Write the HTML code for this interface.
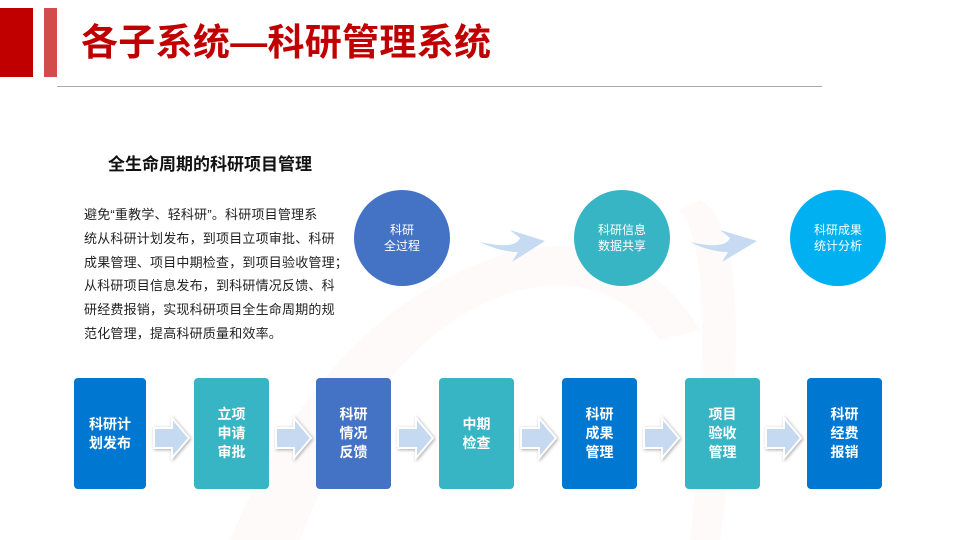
<!DOCTYPE html>
<html><head><meta charset="utf-8"><style>
body{margin:0;width:960px;height:540px;position:relative;background:#fff;font-family:"Liberation Sans","Noto Sans CJK SC",sans-serif;overflow:hidden}
.a{position:absolute}
.box{position:absolute;top:378px;width:75px;height:111px;border-radius:4px;color:#fff;font-weight:bold;font-size:14px;line-height:19px;display:flex;align-items:center;justify-content:center;text-align:center}
.c{position:absolute;width:96px;height:96px;border-radius:50%;color:#fff;font-size:12px;line-height:16px;display:flex;align-items:center;justify-content:center;text-align:center;top:190px}
</style></head><body>
<div class="a" style="left:0;top:8px;width:33px;height:69px;background:#c00000"></div>
<div class="a" style="left:44px;top:8px;width:13px;height:69px;background:#d24c4c"></div>
<div class="a" style="left:81px;top:18px;font-size:37px;font-weight:bold;color:#c00000;line-height:50px;letter-spacing:0.3px">各子系统—科研管理系统</div>
<div class="a" style="left:57px;top:86px;width:765px;height:1px;background:#aaa"></div>
<svg class="a" style="left:0;top:0" width="960" height="540">
<path d="M230 540 Q330 300 520 250 Q640 230 700 330 L660 340 Q610 270 520 290 Q380 330 300 540Z" fill="#fefafa"/>
<path d="M700 200 Q760 230 720 540 L690 540 Q720 260 680 210Z" fill="#fefafa"/>
<path d="M480 242 Q515 250 520 238 L510 230 L545 241 L512 262 L518 252 Q500 252 480 242Z" fill="#c6daf1"/>
<path d="M690 242 Q725 250 730 238 L720 230 L757 241 L722 262 L728 252 Q710 252 690 242Z" fill="#c6daf1"/>
<g fill="#c5d9f1" stroke="#fff" stroke-width="2" style="filter:drop-shadow(1px 1px 1.5px #aaa)">
<path d="M154 428h18v-10l17 20-17 20v-10h-18z"/>
<path d="M276 428h18v-10l17 20-17 20v-10h-18z"/>
<path d="M398 428h18v-10l17 20-17 20v-10h-18z"/>
<path d="M521 428h18v-10l17 20-17 20v-10h-18z"/>
<path d="M644 428h18v-10l17 20-17 20v-10h-18z"/>
<path d="M766 428h18v-10l17 20-17 20v-10h-18z"/>
</g></svg>
<div class="a" style="left:108px;top:150px;font-size:17px;font-weight:bold;color:#111">全生命周期的科研项目管理</div>
<div class="a" style="left:84px;top:203px;width:300px;font-size:13px;letter-spacing:0.2px;line-height:23.8px;color:#222;white-space:nowrap">避免“重教学、轻科研”。科研项目管理系<br>统从科研计划发布，到项目立项审批、科研<br>成果管理、项目中期检查，到项目验收管理；<br>从科研项目信息发布，到科研情况反馈、科<br>研经费报销，实现科研项目全生命周期的规<br>范化管理，提高科研质量和效率。</div>
<div class="c" style="left:354px;background:#4472c4">科研<br>全过程</div>
<div class="c" style="left:574px;background:#38b5c5">科研信息<br>数据共享</div>
<div class="c" style="left:790px;background:#00b0f0">科研成果<br>统计分析</div>
<div class="box" style="left:74px;width:72px;background:#0078d2">科研计<br>划发布</div>
<div class="box" style="left:194px;background:#38b5c5">立项<br>申请<br>审批</div>
<div class="box" style="left:316px;background:#4472c4">科研<br>情况<br>反馈</div>
<div class="box" style="left:439px;background:#38b5c5">中期<br>检查</div>
<div class="box" style="left:562px;background:#0078d2">科研<br>成果<br>管理</div>
<div class="box" style="left:685px;background:#38b5c5">项目<br>验收<br>管理</div>
<div class="box" style="left:807px;background:#0078d2">科研<br>经费<br>报销</div>
</body></html>
